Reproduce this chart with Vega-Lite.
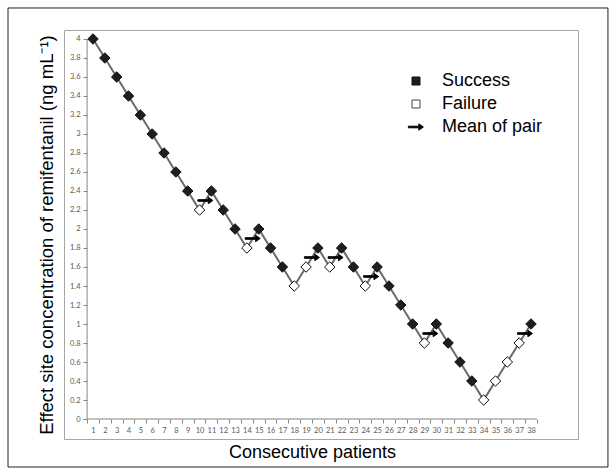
{
  "$schema": "https://vega.github.io/schema/vega-lite/v6.json",
  "width": 514,
  "height": 409,
  "padding": {"left": 64, "top": 30, "right": 38, "bottom": 36},
  "autosize": {"type": "none"},
  "background": "white",
  "config": {"view": {"stroke": "#a6a6a6", "strokeWidth": 1}, "font": "Liberation Sans"},
  "datasets": {
    "patients": [
      {"patient": 1, "conc": 4.0, "outcome": "Success"},
      {"patient": 2, "conc": 3.8, "outcome": "Success"},
      {"patient": 3, "conc": 3.6, "outcome": "Success"},
      {"patient": 4, "conc": 3.4, "outcome": "Success"},
      {"patient": 5, "conc": 3.2, "outcome": "Success"},
      {"patient": 6, "conc": 3.0, "outcome": "Success"},
      {"patient": 7, "conc": 2.8, "outcome": "Success"},
      {"patient": 8, "conc": 2.6, "outcome": "Success"},
      {"patient": 9, "conc": 2.4, "outcome": "Success"},
      {"patient": 10, "conc": 2.2, "outcome": "Failure"},
      {"patient": 11, "conc": 2.4, "outcome": "Success"},
      {"patient": 12, "conc": 2.2, "outcome": "Success"},
      {"patient": 13, "conc": 2.0, "outcome": "Success"},
      {"patient": 14, "conc": 1.8, "outcome": "Failure"},
      {"patient": 15, "conc": 2.0, "outcome": "Success"},
      {"patient": 16, "conc": 1.8, "outcome": "Success"},
      {"patient": 17, "conc": 1.6, "outcome": "Success"},
      {"patient": 18, "conc": 1.4, "outcome": "Failure"},
      {"patient": 19, "conc": 1.6, "outcome": "Failure"},
      {"patient": 20, "conc": 1.8, "outcome": "Success"},
      {"patient": 21, "conc": 1.6, "outcome": "Failure"},
      {"patient": 22, "conc": 1.8, "outcome": "Success"},
      {"patient": 23, "conc": 1.6, "outcome": "Success"},
      {"patient": 24, "conc": 1.4, "outcome": "Failure"},
      {"patient": 25, "conc": 1.6, "outcome": "Success"},
      {"patient": 26, "conc": 1.4, "outcome": "Success"},
      {"patient": 27, "conc": 1.2, "outcome": "Success"},
      {"patient": 28, "conc": 1.0, "outcome": "Success"},
      {"patient": 29, "conc": 0.8, "outcome": "Failure"},
      {"patient": 30, "conc": 1.0, "outcome": "Success"},
      {"patient": 31, "conc": 0.8, "outcome": "Success"},
      {"patient": 32, "conc": 0.6, "outcome": "Success"},
      {"patient": 33, "conc": 0.4, "outcome": "Success"},
      {"patient": 34, "conc": 0.2, "outcome": "Failure"},
      {"patient": 35, "conc": 0.4, "outcome": "Failure"},
      {"patient": 36, "conc": 0.6, "outcome": "Failure"},
      {"patient": 37, "conc": 0.8, "outcome": "Failure"},
      {"patient": 38, "conc": 1.0, "outcome": "Success"}
    ],
    "pairs": [
      {"pos": 10.5, "mean": 2.3, "kind": "Mean of pair"},
      {"pos": 14.5, "mean": 1.9, "kind": "Mean of pair"},
      {"pos": 19.5, "mean": 1.7, "kind": "Mean of pair"},
      {"pos": 21.5, "mean": 1.7, "kind": "Mean of pair"},
      {"pos": 24.5, "mean": 1.5, "kind": "Mean of pair"},
      {"pos": 29.5, "mean": 0.9, "kind": "Mean of pair"},
      {"pos": 37.5, "mean": 0.9, "kind": "Mean of pair"}
    ]
  },
  "resolve": {"axis": {"x": "independent", "y": "independent"}},
  "layer": [
    {
      "data": {"values": [{}]},
      "mark": {"type": "rect", "fill": null, "fillOpacity": 0, "stroke": "#222222", "strokeWidth": 1, "clip": false},
      "encoding": {
        "x": {"datum": -6.18, "type": "quantitative", "axis": null, "scale": {"domain": [-1.4498, 41.97], "nice": false, "zero": false}},
        "x2": {"datum": 44.5},
        "y": {"datum": 4.3263, "type": "quantitative", "axis": null, "scale": {"domain": [-0.2105, 4.0947], "nice": false, "zero": false}},
        "y2": {"datum": -0.5053}
      }
    },
    {
      "data": {"values": [{}]},
      "mark": {"type": "rule", "stroke": "#868686", "strokeWidth": 1},
      "encoding": {
        "x": {"datum": 0.5, "type": "quantitative", "axis": null, "scale": {"domain": [-1.4498, 41.97], "nice": false, "zero": false}},
        "x2": {"datum": 38.5},
        "y": {"datum": 0, "type": "quantitative", "axis": null, "scale": {"domain": [-0.2105, 4.0947], "nice": false, "zero": false}}
      }
    },
    {
      "data": {"values": [{}]},
      "mark": {"type": "rule", "stroke": "#868686", "strokeWidth": 1},
      "encoding": {
        "x": {"datum": 0.5, "type": "quantitative", "axis": null, "scale": {"domain": [-1.4498, 41.97], "nice": false, "zero": false}},
        "y": {"datum": 0, "type": "quantitative", "axis": null, "scale": {"domain": [-0.2105, 4.0947], "nice": false, "zero": false}},
        "y2": {"datum": 4}
      }
    },
    {
      "data": {"name": "patients"},
      "mark": {"type": "line", "stroke": "#6a6a6a", "strokeWidth": 2},
      "encoding": {
        "x": {
          "field": "patient", "type": "quantitative",
          "scale": {"domain": [-1.4498, 41.97], "nice": false, "zero": false},
          "axis": {
            "orient": "bottom", "offset": -20,
            "values": [1,2,3,4,5,6,7,8,9,10,11,12,13,14,15,16,17,18,19,20,21,22,23,24,25,26,27,28,29,30,31,32,33,34,35,36,37,38],
            "ticks": false, "tickSize": 0, "domain": false, "grid": false,
            "labelPadding": 7, "labelFont": "Lato", "labelFontSize": 7.5, "labelColor": "#595959",
            "labelAngle": 0, "labelOverlap": false, "labelFlush": false,
            "title": "Consecutive patients", "titleFont": "Liberation Sans", "titleFontSize": 18,
            "titleFontWeight": "normal", "titleColor": "#000000", "titleX": 248, "titleY": 33, "titleBaseline": "middle"
          }
        },
        "y": {
          "field": "conc", "type": "quantitative",
          "scale": {"domain": [-0.2105, 4.0947], "nice": false, "zero": false},
          "axis": {
            "orient": "left", "offset": -23,
            "values": [0,0.2,0.4,0.6,0.8,1,1.2,1.4,1.6,1.8,2,2.2,2.4,2.6,2.8,3,3.2,3.4,3.6,3.8,4],
            "format": ".1~f", "domain": false, "grid": false,
            "ticks": true, "tickSize": 4, "tickColor": "#868686",
            "labelPadding": 3, "labelFont": "Lato", "labelFontSize": 7.5, "labelColor": "#595959",
            "labelOverlap": false, "labelFlush": false,
            "title": "Effect site concentration of remifentanil (ng mL⁻¹)", "titleFont": "Liberation Sans",
            "titleFontSize": 18.5, "titleFontWeight": "normal", "titleColor": "#000000",
            "titleX": -41, "titleBaseline": "middle"
          }
        }
      }
    },
    {
      "data": {"name": "patients"},
      "mark": {"type": "point", "shape": "diamond", "filled": true, "size": 110, "stroke": "#111111", "strokeWidth": 1, "opacity": 1},
      "encoding": {
        "x": {
          "field": "patient", "type": "quantitative",
          "scale": {"domain": [-1.4498, 41.97], "nice": false, "zero": false},
          "axis": {
            "orient": "bottom", "offset": -20,
            "values": [0.5,1.5,2.5,3.5,4.5,5.5,6.5,7.5,8.5,9.5,10.5,11.5,12.5,13.5,14.5,15.5,16.5,17.5,18.5,19.5,20.5,21.5,22.5,23.5,24.5,25.5,26.5,27.5,28.5,29.5,30.5,31.5,32.5,33.5,34.5,35.5,36.5,37.5,38.5],
            "labels": false, "domain": false, "grid": false, "ticks": true, "tickSize": 4, "tickColor": "#868686", "title": null
          }
        },
        "y": {"field": "conc", "type": "quantitative", "axis": null, "scale": {"domain": [-0.2105, 4.0947], "nice": false, "zero": false}},
        "color": {
          "field": "outcome", "type": "nominal", "legend": null,
          "scale": {"domain": ["Success", "Failure"], "range": ["#1e1e1e", "#ffffff"]}
        }
      }
    },
    {
      "data": {"name": "pairs"},
      "mark": {"type": "point", "filled": true, "size": 64, "opacity": 1, "strokeWidth": 1},
      "encoding": {
        "x": {"field": "pos", "type": "quantitative", "axis": null, "scale": {"domain": [-1.4498, 41.97], "nice": false, "zero": false}},
        "y": {"field": "mean", "type": "quantitative", "axis": null, "scale": {"domain": [-0.2105, 4.0947], "nice": false, "zero": false}},
        "fill": {
          "field": "kind", "type": "nominal",
          "scale": {"domain": ["Success", "Failure", "Mean of pair"], "range": ["#1e1e1e", "#ffffff", "#000000"]},
          "legend": {
            "orient": "none", "legendX": 343, "legendY": 42, "title": null, "padding": 0,
            "labelFont": "Liberation Sans", "labelFontSize": 18, "labelColor": "#000000",
            "labelOffset": 17, "rowPadding": 5, "symbolSize": 64, "symbolStrokeWidth": 1
          }
        },
        "stroke": {
          "field": "kind", "type": "nominal",
          "scale": {"domain": ["Success", "Failure", "Mean of pair"], "range": ["#111111", "#444444", "#000000"]},
          "legend": {
            "orient": "none", "legendX": 343, "legendY": 42, "title": null, "padding": 0,
            "labelFont": "Liberation Sans", "labelFontSize": 18, "labelColor": "#000000",
            "labelOffset": 17, "rowPadding": 5, "symbolSize": 64, "symbolStrokeWidth": 1
          }
        },
        "shape": {
          "field": "kind", "type": "nominal",
          "scale": {"domain": ["Success", "Failure", "Mean of pair"], "range": ["square", "square", "M-1.9,-0.2L0.7,-0.2L0.7,-0.8L1.85,0L0.7,0.8L0.7,0.2L-1.9,0.2Z"]},
          "legend": {
            "orient": "none", "legendX": 343, "legendY": 42, "title": null, "padding": 0,
            "labelFont": "Liberation Sans", "labelFontSize": 18, "labelColor": "#000000",
            "labelOffset": 17, "rowPadding": 5, "symbolSize": 64, "symbolStrokeWidth": 1
          }
        }
      }
    }
  ]
}
